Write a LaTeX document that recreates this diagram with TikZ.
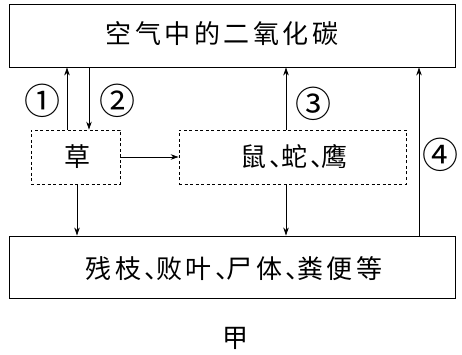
\documentclass[tikz,border=0pt]{standalone}
\usepackage{fontspec}
\newfontfamily\cjk[LetterSpace=13.5]{Noto Sans CJK SC}
\newfontfamily\cjkn{Noto Sans CJK SC}
\newcommand{\dun}{、\kern-0.56em}
\usetikzlibrary{arrows.meta}
\begin{document}
\begin{tikzpicture}[x=1pt,y=-1pt,
  solidbox/.style={draw,line width=0.9pt,inner sep=0pt},
  dashbox/.style={draw,line width=0.8pt,dash pattern=on 3pt off 2.5pt,inner sep=0pt},
  arr/.style={line width=0.8pt,-{Stealth[length=8pt,width=5.5pt]}},
  txt/.style={font=\cjk\fontsize{26}{26}\selectfont,inner sep=0pt,anchor=base},
  num/.style={font=\cjkn\fontsize{36}{36}\selectfont,inner sep=0pt}]
\useasboundingbox (0,0) rectangle (462,355);
\fill[white] (0,0) rectangle (462,355);
% boxes
\node[solidbox,minimum width=446pt,minimum height=63pt] (air) at (232,35.5) {};
\node[txt] (airt) at (222,44) {空气中的二氧化碳};
\node[dashbox,minimum width=89pt,minimum height=54pt] (grass) at (75.5,157) {};
\node[txt] (grasst) at (77,167) {草};
\node[dashbox,minimum width=227pt,minimum height=54pt] (anim) at (292.5,157) {};
\node[txt] (animt) at (294,167) {鼠\dun 蛇\dun 鹰};
\node[solidbox,minimum width=446pt,minimum height=62pt] (litter) at (232,267) {};
\node[txt] (littert) at (234,278) {残枝\dun 败叶\dun 尸体\dun 粪便等};
\node[txt] (jia) at (235,347) {甲};
% connectors
\draw[arr] (67,0 |- grass.north) -- (67,0 |- air.south);
\draw[arr] (89,0 |- air.south) -- (89,0 |- grass.north);
\draw[arr] (grass.east) -- (anim.west);
\draw[arr] (286,0 |- anim.north) -- (286,0 |- air.south);
\draw[arr] (419,0 |- litter.north) -- (419,0 |- air.south);
\draw[arr] (77,0 |- grass.south) -- (77,0 |- litter.north);
\draw[arr] (286,0 |- anim.south) -- (286,0 |- litter.north);
% labels
\node[num] (n1) at (42,101) {①};
\node[num] (n2) at (117,101) {②};
\node[num] (n3) at (313,104) {③};
\node[num] (n4) at (440,155) {④};
\end{tikzpicture}
\end{document}
